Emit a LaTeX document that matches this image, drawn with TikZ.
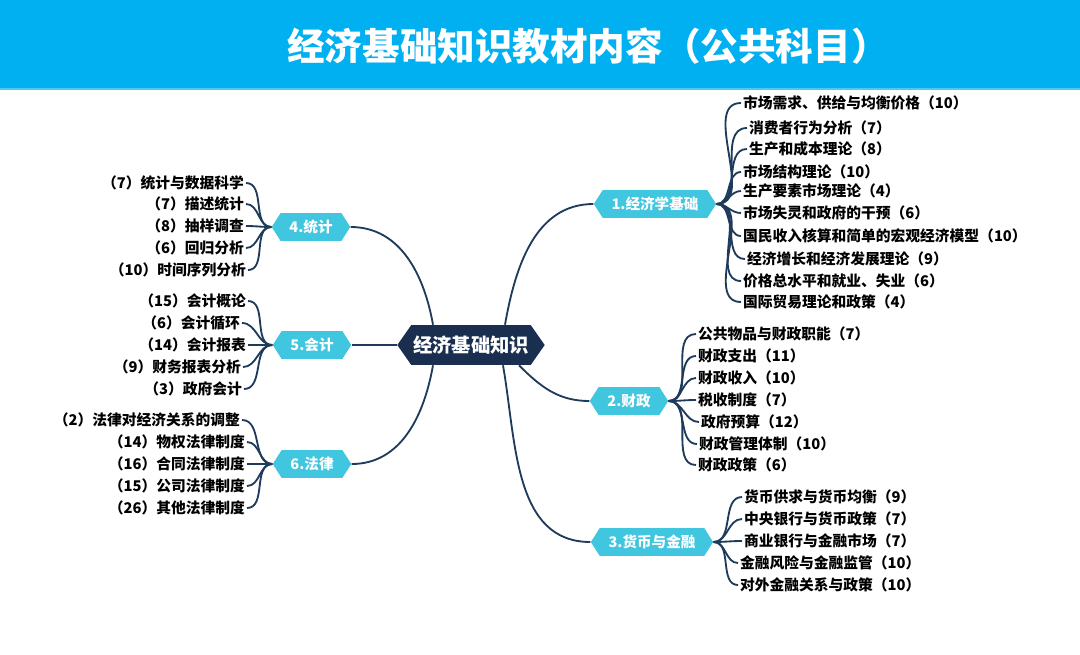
\documentclass[tikz,border=0pt]{standalone}
\usepackage{fontspec}
\setmainfont{Noto Sans CJK SC}
\usepackage{tikz}
\usetikzlibrary{positioning,calc,shapes.symbols}
\definecolor{cA}{HTML}{1a2f4f}
\definecolor{cB}{HTML}{40c6df}
\definecolor{cC}{HTML}{00b0f0}
\definecolor{cL}{HTML}{1f3b5c}
\tikzset{
  hub/.style={signal,signal to=west and east,signal pointer angle=110,
              fill=cA,text=white,font=\fontsize{11}{13}\selectfont\bfseries,
              minimum height=22.7pt,inner xsep=1pt},
  branch/.style={signal,signal to=west and east,signal pointer angle=115,
              fill=cB,text=white,font=\fontsize{8.3}{10}\selectfont\bfseries,
              minimum height=15.9pt,inner xsep=5pt},
  leaf/.style={font=\fontsize{8.4}{10}\selectfont\bfseries,text=black,inner sep=1pt},
  link/.style={cL,line width=1.05pt},
}

\begin{document}
\begin{tikzpicture}[x=0.02cm,y=-0.02cm]
  \useasboundingbox (0,0) rectangle (1080,654);
  % header band
  \fill[cC] (0,0) rectangle (1080,88);
  \fill[cC!70] (0,88) rectangle (1080,90);
  \node[font=\fontsize{21.4}{24}\selectfont\bfseries,text=white] (title) at (588,46)
    {经济基础知识教材内容（公共科目）};

  % hub and branches
  \node[hub] (hub) at (471,345) {经济基础知识};
  \node[branch] (b1) at (655,204) {1.经济学基础};
  \node[branch] (b2) at (629,401) {2.财政};
  \node[branch] (b3) at (652,542) {3.货币与金融};
  \node[branch] (b4) at (311,227) {4.统计};
  \node[branch] (b5) at (312,345) {5.会计};
  \node[branch] (b6) at (312,464) {6.法律};

  \draw[link] ($(hub.north)+(34,0)$) to[out=80,in=180] (b1.west);
  \draw[link] ($(hub.south)+(48,0)$) to[out=-45,in=180] (b2.west);
  \draw[link] ($(hub.south)+(32,0)$) to[out=-80,in=180] (b3.west);
  \draw[link] ($(hub.north)+(-38,0)$) to[out=100,in=0] (b4.east);
  \draw[link] (hub.west) -- (b5.east);
  \draw[link] ($(hub.south)+(-38,0)$) to[out=-100,in=0] (b6.east);

  % 1 economics
  \foreach \x/\y/\t [count=\i] in {
    741/103/市场需求、供给与均衡价格（10）,
    747/128/消费者行为分析（7）,
    747/149/生产和成本理论（8）,
    741/172/市场结构理论（10）,
    741/191/生产要素市场理论（4）,
    741/213/市场失灵和政府的干预（6）,
    741/236/国民收入核算和简单的宏观经济模型（10）,
    745/259/经济增长和经济发展理论（9）,
    741/281/价格总水平和就业、失业（6）,
    741/302/国际贸易理论和政策（4）}{
    \node[leaf,anchor=west] (e\i) at (\x,\y) {\t};
    \draw[link] (b1.east) to[out=0,in=180] (e\i.west);
  }
  % 2 public finance
  \foreach \x/\y/\t [count=\i] in {
    696/334/公共物品与财政职能（7）,
    696/356/财政支出（11）,
    696/378/财政收入（10）,
    696/400/税收制度（7）,
    699/422/政府预算（12）,
    697/444/财政管理体制（10）,
    696/465/财政政策（6）}{
    \node[leaf,anchor=west] (f\i) at (\x,\y) {\t};
    \draw[link] (b2.east) to[out=0,in=180] (f\i.west);
  }
  % 3 money and finance
  \foreach \x/\y/\t [count=\i] in {
    742/497/货币供求与货币均衡（9）,
    742/519/中央银行与货币政策（7）,
    742/541/商业银行与金融市场（7）,
    738/563/金融风险与金融监管（10）,
    738/585/对外金融关系与政策（10）}{
    \node[leaf,anchor=west] (m\i) at (\x,\y) {\t};
    \draw[link] (b3.east) to[out=0,in=180] (m\i.west);
  }
  % 4 statistics
  \foreach \x/\y/\t [count=\i] in {
    246/183/（7）统计与数据科学,
    246/204/（7）描述统计,
    246/226/（8）抽样调查,
    246/248/（6）回归分析,
    248/270/（10）时间序列分析}{
    \node[leaf,anchor=east] (s\i) at (\x,\y) {\t};
    \draw[link] (b4.west) to[out=180,in=0] (s\i.east);
  }
  % 5 accounting
  \foreach \x/\y/\t [count=\i] in {
    248/301/（15）会计概论,
    242/323/（6）会计循环,
    248/345/（14）会计报表,
    243/367/（9）财务报表分析,
    244/389/（3）政府会计}{
    \node[leaf,anchor=east] (a\i) at (\x,\y) {\t};
    \draw[link] (b5.west) to[out=180,in=0] (a\i.east);
  }
  % 6 law
  \foreach \x/\y/\t [count=\i] in {
    242/420/（2）法律对经济关系的调整,
    247/442/（14）物权法律制度,
    247/464/（16）合同法律制度,
    247/486/（15）公司法律制度,
    247/508/（26）其他法律制度}{
    \node[leaf,anchor=east] (w\i) at (\x,\y) {\t};
    \draw[link] (b6.west) to[out=180,in=0] (w\i.east);
  }
\end{tikzpicture}
\end{document}
